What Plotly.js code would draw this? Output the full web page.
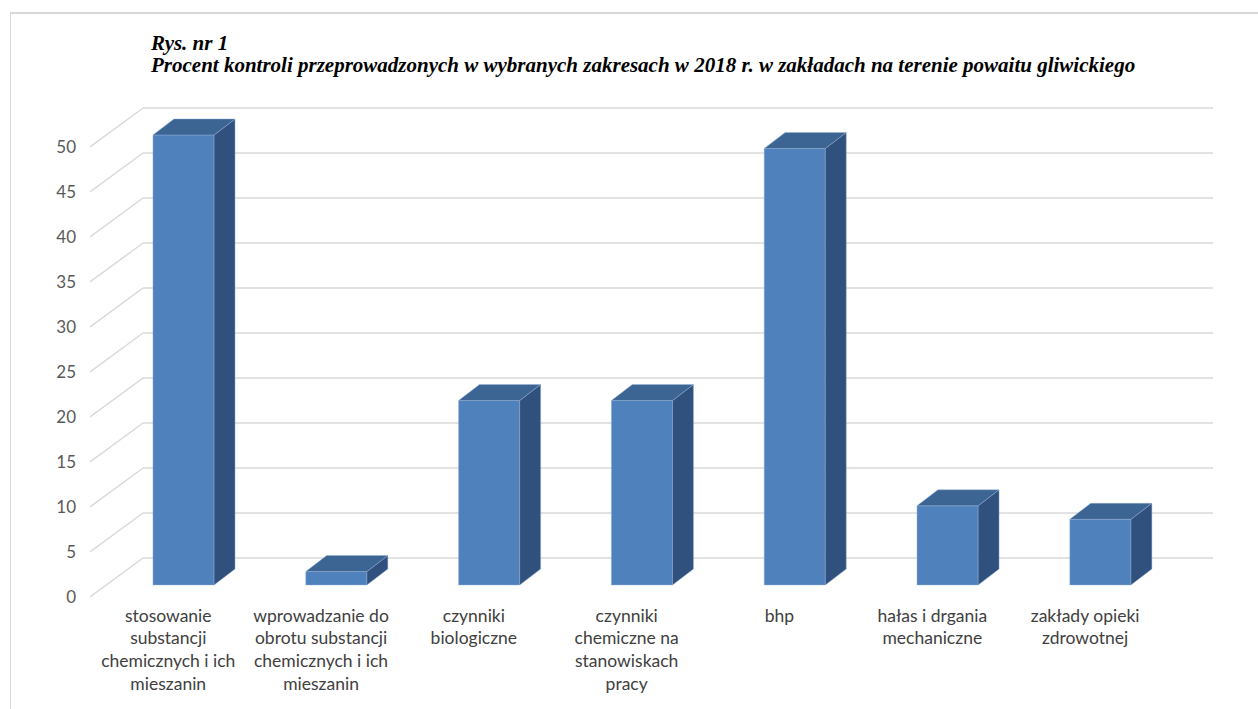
<!DOCTYPE html>
<html>
<head>
<meta charset="utf-8">
<script src="https://cdn.plot.ly/plotly-3.0.1.min.js"></script>
<style>
  html, body { margin: 0; padding: 0; background: #ffffff; }
  #chart { width: 1258px; height: 709px; position: absolute; left: 0; top: 0; }
  #frame { position: absolute; left: 10px; top: 12px; width: 1400px; height: 800px;
           border-left: 1px solid #d9d9d9; border-top: 2px solid #d9d9d9; pointer-events: none; }
</style>
</head>
<body>
<div id="chart"></div>
<div id="frame"></div>
<script>
// ---- data ----
const categories = [
  "stosowanie<br>substancji<br>chemicznych i ich<br>mieszanin",
  "wprowadzanie do<br>obrotu substancji<br>chemicznych i ich<br>mieszanin",
  "czynniki<br>biologiczne",
  "czynniki<br>chemiczne na<br>stanowiskach<br>pracy",
  "bhp",
  "hałas i drgania<br>mechaniczne",
  "zakłady opieki<br>zdrowotnej"
];
const values = [50, 1.5, 20.5, 20.5, 48.5, 8.8, 7.3];
const yTicks = [0, 5, 10, 15, 20, 25, 30, 35, 40, 45, 50];
const titleLine1 = "Rys. nr 1";
const titleLine2 = "Procent kontroli przeprowadzonych w wybranych zakresach w 2018 r. w zakładach na terenie powaitu gliwickiego";

// ---- 3D geometry (style constants, in axis units) ----
const barW = 0.40;          // bar width (category units)
const depthX = 0.137;       // depth offset of bars, x
const depthY = 1.78;        // depth offset of bars, y
const wallLeft = -0.265;    // back wall left
const wallRight = 6.737;    // back wall right
const frontLeft = -0.612;   // front edge of side wall
const wallDy = 3.0;         // back wall y offset
const frontDy = -1.333;     // front edge y offset

const frontColor = "#4f81bd";
const topColor = "#3c6594";
const sideColor = "#30517d";
const edgeColor = "rgba(150,178,215,0.55)";

const xs = categories.map((c, i) => i);

const traces = [];
// front faces
traces.push({
  type: "bar", x: xs, y: values, width: barW, base: 0,
  marker: { color: frontColor, line: { color: edgeColor, width: 0.8 } },
  hoverinfo: "skip", showlegend: false
});
// side faces & top faces
const sideX = [], sideY = [], topX = [], topY = [];
values.forEach((v, i) => {
  const r = i + barW / 2, l = i - barW / 2;
  sideX.push(r, r + depthX, r + depthX, r, r, null);
  sideY.push(0, depthY, v + depthY, v, 0, null);
  topX.push(l, l + depthX, r + depthX, r, l, null);
  topY.push(v, v + depthY, v + depthY, v, v, null);
});
traces.push({
  type: "scatter", mode: "lines", x: sideX, y: sideY, fill: "toself",
  fillcolor: sideColor, line: { color: edgeColor, width: 0.8 },
  hoverinfo: "skip", showlegend: false
});
traces.push({
  type: "scatter", mode: "lines", x: topX, y: topY, fill: "toself",
  fillcolor: topColor, line: { color: edgeColor, width: 0.8 },
  hoverinfo: "skip", showlegend: false
});

// back wall gridlines & side wall diagonals as shapes below traces
const shapes = [];
yTicks.forEach(v => {
  shapes.push({ type: "line", layer: "below", xref: "x", yref: "y",
    x0: wallLeft, x1: wallRight, y0: v + wallDy, y1: v + wallDy,
    line: { color: "#d9d9d9", width: 1.5 } });
  shapes.push({ type: "line", layer: "below", xref: "x", yref: "y",
    x0: frontLeft, x1: wallLeft, y0: v + frontDy, y1: v + wallDy,
    line: { color: "#d9d9d9", width: 1.5 } });
});

const titleFont = { family: "Liberation Serif, Times New Roman, serif", size: 21, color: "#000000" };

const layout = {
  width: 1258, height: 709,
  paper_bgcolor: "#ffffff", plot_bgcolor: "rgba(0,0,0,0)",
  margin: { l: 90, r: 45, t: 99, b: 106 },
  annotations: [
    { text: "<b><i>" + titleLine1 + "</i></b>", xref: "paper", yref: "paper",
      x: 0.0516, y: 1.111, xanchor: "left", yanchor: "middle", showarrow: false, font: titleFont },
    { text: "<b><i>" + titleLine2 + "</i></b>", xref: "paper", yref: "paper",
      x: 0.0516, y: 1.0675, xanchor: "left", yanchor: "middle", showarrow: false, font: titleFont }
  ],
  xaxis: {
    range: [frontLeft, wallRight],
    tickmode: "array",
    tickvals: xs.map(i => i - 0.1),
    ticktext: categories,
    showgrid: false, zeroline: false, showline: false, ticks: "",
    tickfont: { family: "Lato, Carlito, Calibri, sans-serif", size: 17.5, color: "#404040" },
    fixedrange: true
  },
  yaxis: {
    range: [-2, 54],
    tickmode: "array",
    tickvals: yTicks.map(v => v + frontDy),
    ticktext: yTicks.map(v => String(v)),
    showgrid: false, zeroline: false, showline: false, ticks: "",
    ticklabelstandoff: 13,
    tickfont: { family: "Lato, Carlito, Calibri, sans-serif", size: 17, color: "#595959" },
    fixedrange: true
  },
  shapes: shapes,
  showlegend: false,
  bargap: 0
};

Plotly.newPlot("chart", traces, layout, { displayModeBar: false, staticPlot: true });
</script>
</body>
</html>
